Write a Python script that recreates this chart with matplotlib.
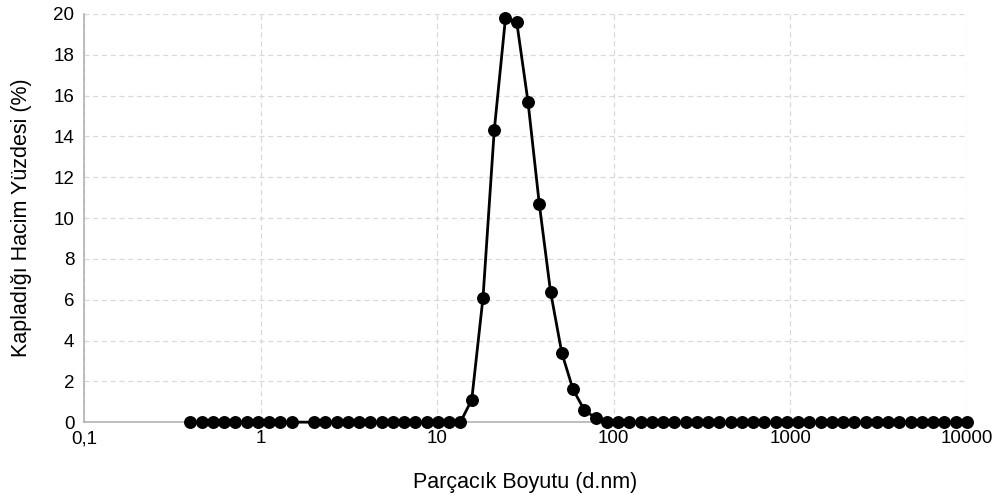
import numpy as np
import matplotlib.pyplot as plt
from matplotlib.ticker import FixedLocator, FixedFormatter, NullLocator

plt.rcParams['font.family'] = ['Liberation Sans', 'DejaVu Sans']

# size classes (d.nm) and volume percentages; one class has no reading
size_nm = [0.4, 0.4632, 0.5365, 0.6213, 0.7195, 0.8332, 0.9649, 1.117, 1.294, 1.499,
           1.736, 2.01, 2.328, 2.696, 3.122, 3.615, 4.187, 4.849, 5.615, 6.503,
           7.531, 8.721, 10.1, 11.7, 13.54, 15.69, 18.17, 21.04, 24.36, 28.21,
           32.67, 37.84, 43.82, 50.75, 58.77, 68.06, 78.82, 91.28, 105.7, 122.4,
           141.8, 164.2, 190.1, 220.2, 255.0, 295.3, 342.0, 396.1, 458.7, 531.2,
           615.1, 712.4, 825.0, 955.4, 1106, 1281, 1484, 1718, 1990, 2305,
           2669, 3091, 3580, 4145, 4801, 5560, 6439, 7456, 8635, 10000]
volume_pct = [0, 0, 0, 0, 0, 0, 0, 0, 0, 0,
              np.nan, 0, 0, 0, 0, 0, 0, 0, 0, 0,
              0, 0, 0, 0, 0, 1.1, 6.1, 14.3, 19.8, 19.6,
              15.7, 10.7, 6.4, 3.4, 1.6, 0.6, 0.2, 0, 0, 0,
              0, 0, 0, 0, 0, 0, 0, 0, 0, 0,
              0, 0, 0, 0, 0, 0, 0, 0, 0, 0,
              0, 0, 0, 0, 0, 0, 0, 0, 0, 0]

x_ticks = [0.1, 1, 10, 100, 1000, 10000]
x_tick_labels = ['0,1', '1', '10', '100', '1000', '10000']

x = np.array(size_nm)
y = np.array(volume_pct)
ok = ~np.isnan(y)

fig = plt.figure(figsize=(10, 4.99), dpi=100)
ax = fig.add_axes([0.084, 0.154, 0.883, 0.818])

ax.plot(x[ok], y[ok], color='black', lw=2.0, marker='o', ms=8.3,
        zorder=3, clip_on=False)

ax.set_xscale('log')
ax.set_xlim(0.1, 10000)
ax.set_ylim(0, 20)
ax.xaxis.set_major_locator(FixedLocator(x_ticks))
ax.xaxis.set_major_formatter(FixedFormatter(x_tick_labels))
ax.xaxis.set_minor_locator(NullLocator())
ax.set_yticks(np.arange(0, 21, 2))

ax.grid(True, color='#d9d9d9', ls=(0, (4, 3)), lw=0.9)
ax.set_axisbelow(True)
for side in ('top', 'right'):
    ax.spines[side].set_visible(False)
for side in ('left', 'bottom'):
    ax.spines[side].set_color('#b3b3b3')
    ax.spines[side].set_linewidth(1.2)
ax.tick_params(axis='y', length=0, labelsize=13.5, pad=7)
ax.tick_params(axis='x', length=0, labelsize=13.5, pad=6)

ax.set_xlabel('Parçacık Boyutu (d.nm)', fontsize=15.5, labelpad=18)
ax.set_ylabel('Kapladığı Hacim Yüzdesi (%)', fontsize=15.5, labelpad=15)

fig.savefig('out.png', dpi=100)
